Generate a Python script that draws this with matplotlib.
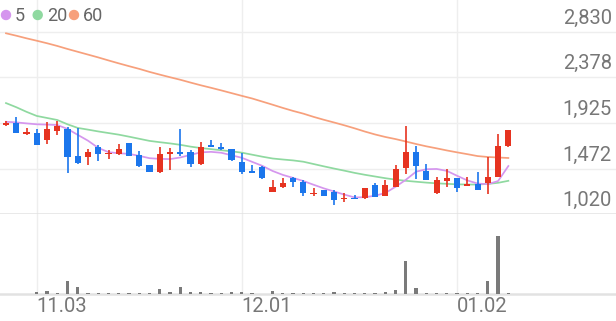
import matplotlib
matplotlib.use("Agg")
import matplotlib.pyplot as plt
from matplotlib.patches import Circle

plt.rcParams['font.family'] = ['Roboto', 'DejaVu Sans']

# daily candles, index 0 = first session shown
opens = [1902, 1922, 1816, 1829, 1756, 1848, 1868, 1597, 1590, 1689,
         1614, 1614, 1723, 1607, 1507, 1435, 1614, 1634, 1634, 1517,
         1706, 1689, 1666, 1540, 1451, 1484, 1242, 1286, 1381, 1335,
         1219, 1259, 1242, 1169, 1182, 1176, 1308, 1199, 1293, 1480,
         1634, 1448, 1226, 1348, 1375, 1298, 1315, 1325, 1391, 1696]
highs = [1945, 1982, 1872, 1865, 1938, 1942, 1885, 1872, 1663, 1706,
         1656, 1716, 1728, 1650, 1512, 1683, 1679, 1862, 1656, 1739,
         1756, 1723, 1670, 1630, 1507, 1497, 1358, 1381, 1385, 1358,
         1276, 1263, 1259, 1232, 1209, 1280, 1325, 1358, 1507, 1898,
         1699, 1514, 1385, 1465, 1380, 1391, 1441, 1584, 1816, 1860]
lows = [1895, 1826, 1803, 1706, 1716, 1806, 1425, 1517, 1507, 1547,
        1564, 1607, 1595, 1490, 1436, 1430, 1458, 1597, 1490, 1512,
        1685, 1660, 1552, 1415, 1428, 1370, 1238, 1282, 1291, 1202,
        1202, 1198, 1110, 1142, 1165, 1172, 1188, 1195, 1290, 1418,
        1365, 1354, 1222, 1291, 1236, 1294, 1255, 1219, 1388, 1690]
closes = [1922, 1829, 1836, 1709, 1868, 1895, 1584, 1530, 1640, 1617,
          1630, 1666, 1600, 1497, 1441, 1614, 1640, 1617, 1514, 1689,
          1689, 1663, 1557, 1435, 1431, 1375, 1291, 1331, 1341, 1226,
          1232, 1202, 1159, 1182, 1169, 1276, 1192, 1308, 1466, 1634,
          1497, 1358, 1358, 1375, 1282, 1315, 1259, 1391, 1696, 1855]
volumes = [5, 5, 5, 17, 27, 13, 127, 67, 13, 13,
           7, 7, 7, 10, 7, 53, 25, 73, 25, 25,
           7, 7, 17, 17, 7, 5, 35, 7, 7, 7,
           7, 7, 20, 7, 7, 7, 10, 20, 40, 330,
           63, 13, 10, 10, 10, 10, 13, 130, 583, 10]

ma5 = [1937, 1931, 1921, 1912, 1909, 1905, 1866, 1807, 1749, 1677,
       1635, 1624, 1618, 1598, 1575, 1568, 1566, 1582, 1608, 1633,
       1638, 1629, 1604, 1579, 1539, 1499, 1448, 1409, 1379, 1348,
       1311, 1275, 1244, 1213, 1185, 1187, 1202, 1229, 1291, 1360,
       1441, 1465, 1468, 1449, 1400, 1354, 1323, 1316, 1348, 1497]
ma20 = [2123, 2082, 2036, 1995, 1975, 1955, 1912, 1876, 1859, 1841,
        1825, 1809, 1789, 1768, 1747, 1734, 1722, 1708, 1690, 1676,
        1665, 1654, 1643, 1630, 1610, 1590, 1572, 1562, 1553, 1540,
        1517, 1494, 1472, 1451, 1429, 1410, 1393, 1376, 1362, 1350,
        1341, 1332, 1325, 1320, 1315, 1313, 1313, 1319, 1330, 1350]
ma60 = [2817, 2793, 2767, 2743, 2718, 2691, 2661, 2633, 2605, 2577,
        2547, 2518, 2490, 2463, 2433, 2406, 2380, 2355, 2327, 2300,
        2275, 2249, 2222, 2195, 2169, 2138, 2107, 2075, 2045, 2018,
        1986, 1957, 1930, 1902, 1872, 1840, 1811, 1786, 1765, 1741,
        1716, 1693, 1673, 1652, 1633, 1615, 1596, 1587, 1582, 1577]

price_ticks = [1020, 1472, 1925, 2378, 2830]
price_labels = ['1,020', '1,472', '1,925', '2,378', '2,830']
date_pos = [3, 23, 44]
date_labels = ['11.03', '12.01', '01.02']

UP = '#e63320'
DOWN = '#1b76ec'
TXT = '#777777'
GRID = '#eeeeee'

fig = plt.figure(figsize=(6.16, 3.21), dpi=100)
ax = fig.add_axes([0, 107 / 321, 1, 214 / 321])
axv = fig.add_axes([0, 27 / 321, 1, 80 / 321])

xlim = (-0.585, 59.5)
idx = list(range(len(closes)))

for a in (ax, axv):
    a.set_xlim(*xlim)
    for s in a.spines.values():
        s.set_visible(False)
    a.set_xticks([])
    a.set_yticks([])
    for p in date_pos:
        a.axvline(p, color=GRID, lw=1, zorder=0)

ax.set_ylim(1020, 3148)
for t in price_ticks[1:]:
    ax.axhline(t, color=GRID, lw=1, zorder=0)
ax.axhline(1020, color='#e2e2e2', lw=1.8, zorder=0, clip_on=False)

ax.plot(idx, ma60, color='#f7a07c', lw=1.25, zorder=2)
ax.plot(idx, ma20, color='#8fd9a0', lw=1.25, zorder=2)
ax.plot(idx, ma5, color='#d596ee', lw=1.25, zorder=2)

for i in idx:
    c = UP if closes[i] >= opens[i] else DOWN
    ax.vlines(i, lows[i], highs[i], color=c, lw=1.2, zorder=3)
    h = closes[i] - opens[i]
    if abs(h) < 12:
        h = 12 if h >= 0 else -12
    ax.bar(i, h, bottom=opens[i], width=0.6, color=c, zorder=4)

for t, lab in zip(price_ticks, price_labels):
    ax.annotate(lab, xy=(1, t), xycoords=('axes fraction', 'data'),
                xytext=(-3, 9.8), textcoords='offset points',
                ha='right', va='center', fontsize=14.5, color=TXT)

axv.set_ylim(0, 800)
axv.bar(idx, volumes, width=0.32, color='#7a7a7a', zorder=3)
axv.axhline(0, color='#e2e2e2', lw=1.8, zorder=2, clip_on=False)

for p, lab in zip(date_pos, date_labels):
    axv.annotate(lab, xy=(p, 0), xycoords=('data', 'axes fraction'),
                 xytext=(0, -9), textcoords='offset points',
                 ha='left', va='center', fontsize=14.5, color=TXT)

# legend
legend = [(6, '#d596ee', '5'), (37.7, '#8fd9a0', '20'), (74, '#f7a07c', '60')]
for x, col, lab in legend:
    fig.add_artist(Circle((x / 100, (321 - 15) / 100), 0.045, color=col,
                          transform=fig.dpi_scale_trans))
    fig.text((x + 9) / 616, (321 - 16) / 321, lab, fontsize=13,
             color='#666666', va='center', ha='left')

fig.savefig('out.png', dpi=100)
